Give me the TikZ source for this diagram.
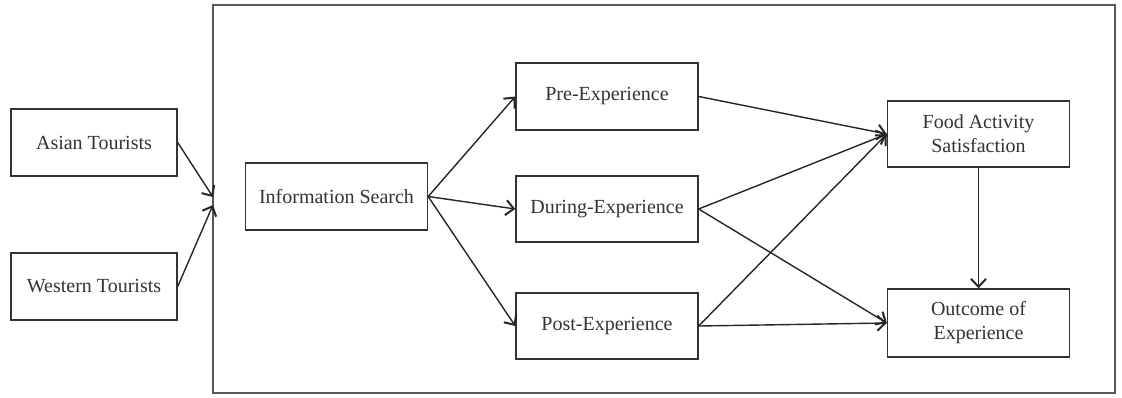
\documentclass[tikz,border=0pt]{standalone}
\usepackage{fontspec}
\setmainfont{Liberation Serif}
\usetikzlibrary{arrows.meta}
\begin{document}
\begin{tikzpicture}[x=1pt,y=-1pt,
  box/.style={draw=black!80,line width=1.4pt,rectangle,inner sep=0pt,
    minimum width=182pt,minimum height=67pt,align=center,
    font=\fontsize{20}{24}\selectfont,text=black!80},
  arr/.style={draw=black!85,line width=1.4pt,-{Straight Barb[length=8pt,width=15pt,line width=2pt]}}]
\useasboundingbox (0,0) rectangle (1122,397);
\node[draw=black!65,line width=2pt,rectangle,minimum width=902pt,minimum height=388pt,inner sep=0pt] (frame) at (664,199) {};
\coordinate (inA) at (213,197);
\coordinate (inW) at (213,205);
\node[box,minimum width=166pt] (asian) at (94,142.5) {Asian Tourists};
\node[box,minimum width=166pt] (western) at (94,286.5) {Western Tourists};
\node[box] (info) at (336.5,196.5) {Information Search};
\node[box] (pre) at (607,96.5) {Pre-Experience};
\node[box,minimum height=66pt] (during) at (607,209) {During-Experience};
\node[box,minimum height=66pt] (post) at (607,326) {Post-Experience};
\node[box,minimum height=66pt] (fas) at (978.5,134) {Food Activity\\Satisfaction};
\node[box,minimum height=68pt] (out) at (978.5,323) {Outcome of\\Experience};
\draw[arr] (asian.east) -- (inA);
\draw[arr] (western.east) -- (inW);
\draw[arr] (info.east) -- (pre.west);
\draw[arr] (info.east) -- (during.west);
\draw[arr] (info.east) -- (post.west);
\draw[arr] (pre.east) -- (fas.west);
\draw[arr] (during.east) -- (fas.west);
\draw[arr] (post.east) -- (fas.west);
\draw[arr] (during.east) -- (out.west);
\draw[arr] (post.east) -- (out.west);
\draw[arr] (fas.south) -- (out.north);
\end{tikzpicture}
\end{document}
